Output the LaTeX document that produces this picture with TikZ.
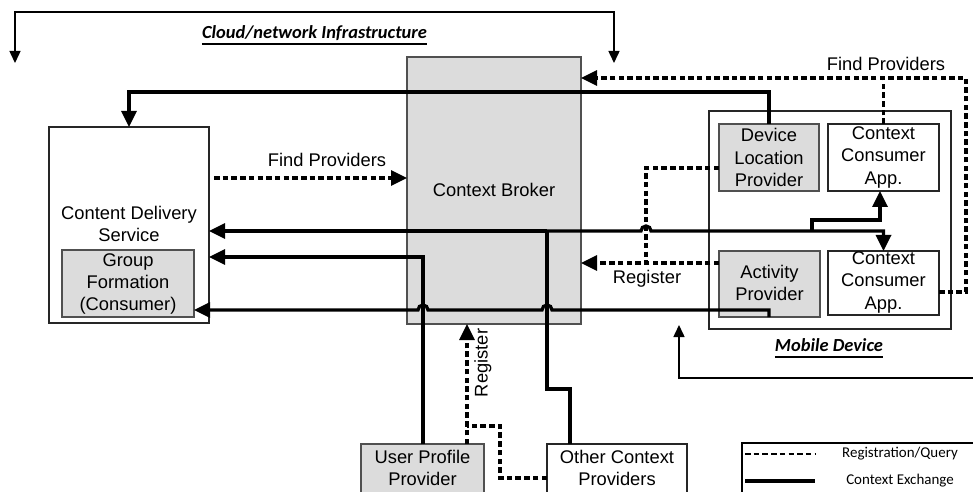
\documentclass[tikz,border=0pt]{standalone}
\usepackage{fontspec}
\setmainfont{Liberation Sans}
\newfontfamily\calibri{Carlito}
\usetikzlibrary{arrows.meta}
\definecolor{boxgray}{HTML}{DCDCDC}
\definecolor{edgegray}{HTML}{505050}
\tikzset{
 graybox/.style={draw=edgegray, fill=boxgray, line width=1.4bp, inner sep=0, outer sep=0},
 whitebox/.style={draw=black!85, fill=white, line width=1.3bp, inner sep=0, outer sep=0},
 lbl/.style={font=\fontsize{18.4}{22.3}\selectfont, align=center, inner sep=0},
 legtxt/.style={font=\calibri\fontsize{15}{18}\selectfont, inner sep=0},
 ctx/.style={line width=3.3bp},
 reg/.style={line width=3.1bp, dash pattern=on 5.5bp off 3.2bp},
 bigtip/.style={-{Triangle[length=16bp,width=15bp]}},
 thinln/.style={line width=1.5bp},
 thintip/.style={-{Triangle[length=12bp,width=11bp]}},
 bothtips/.style={{Triangle[length=12bp,width=11bp]}-{Triangle[length=12bp,width=11bp]}},
 titletxt/.style={font=\calibri\bfseries\itshape\fontsize{18.5}{22}\selectfont, inner sep=0},
}
\begin{document}
\begin{tikzpicture}[x=1bp, y=-1bp]
\useasboundingbox (0,0) rectangle (973,492);
\fill[white] (0,0) rectangle (973,492);
\clip (0,0) rectangle (973,492);

% boxes
\node[graybox, minimum width=174bp, minimum height=267bp] (broker) at (494,190.5) {};
\node[lbl] (brokertxt) at (494,190) {Context Broker};

\node[whitebox, minimum width=160bp, minimum height=196bp] (cds) at (129,225) {};
\node[lbl] (cdstxt) at (129,224) {Content Delivery\\Service};
\node[graybox, minimum width=132bp, minimum height=67bp] (group) at (128,283.5) {};
\node[lbl] (grouptxt) at (128,284) {Group\\Formation\\(Consumer)};

\node[whitebox, minimum width=242bp, minimum height=218bp] (mobile) at (830,220) {};
\node[graybox, minimum width=100bp, minimum height=67bp] (devloc) at (769,157.5) {};
\node[lbl] (devloctxt) at (769,157.5) {Device\\Location\\Provider};
\node[whitebox, minimum width=111bp, minimum height=67bp] (topcons) at (883.5,157.5) {};
\node[lbl] (topconstxt) at (883.5,157.5) {Context\\Consumer\\App.};
\node[graybox, minimum width=101bp, minimum height=66bp] (activity) at (769.5,284) {};
\node[lbl] (activitytxt) at (769.5,283) {Activity\\Provider};
\node[whitebox, minimum width=111bp, minimum height=64bp] (botcons) at (883.5,283) {};
\node[lbl] (botconstxt) at (883.5,282.5) {Context\\Consumer\\App.};

\node[graybox, minimum width=123bp, minimum height=66bp] (userprof) at (422.5,477) {};
\node[lbl] (userproftxt) at (422.5,468) {User Profile\\Provider};
\node[whitebox, minimum width=140bp, minimum height=66bp] (other) at (617,477) {};
\node[lbl] (othertxt) at (617,468) {Other Context\\Providers};

% titles
\node[titletxt, anchor=base] (cloud) at (314.5,39) {Cloud/network Infrastructure};
\draw[thinln] ([yshift=-5bp]cloud.base west) -- ([yshift=-5bp]cloud.base east);
\node[titletxt, anchor=base] (mobtitle) at (829,352) {Mobile Device};
\draw[thinln] ([yshift=-5bp]mobtitle.base west) -- ([yshift=-5bp]mobtitle.base east);

% bracket arrows
\coordinate (cloudL) at (15,63);
\coordinate (cloudR) at (614,63);
\draw[thinln, bothtips] (cloudL) -- (15,12) -- (614,12) -- (cloudR);
\coordinate (mobR) at (975,378);
\coordinate (mobtip) at (679,325);
\draw[thinln, thintip] (mobR) -- (679,378) -- (mobtip);

% registration / query (dashed)
\draw[reg, bigtip] (botcons.east |- 0,292) -- (966,292) -- (966,78) -- (broker.east |- 0,78);
\draw[reg] (topcons.north) -- (topcons.north |- 0,78);
\node[lbl] (fp2) at (886,64) {Find Providers};

\draw[reg, bigtip, shorten <=5bp] (cds.east |- 0,178) -- (broker.west |- 0,178);
\node[lbl] (fp1) at (327,160) {Find Providers};

\draw[reg] (devloc.west |- 0,168) -- (646,168) -- (646,263);
\draw[reg, bigtip] (activity.west |- 0,263) -- (broker.east |- 0,263);
\node[lbl] (reg1) at (647,279) {Register};

\draw[reg, bigtip] (userprof.north -| 467,0) -- (broker.south -| 467,0);
\draw[reg] (other.west |- 0,478) -- (500,478) -- (500,426) -- (467,426);
\node[lbl, rotate=90] (reg2) at (483,363) {Register};

% context exchange (thick)
\draw[ctx, bigtip] (devloc.north) -- (769,92) -- (129,92) -- (cds.north);
\draw[ctx] (other.north -| 570,0) -- (570,389) -- (547,389) -- (547,231);
\draw[ctx, bigtip] (547,231) -- (cds.east |- 0,231);
\draw[ctx, bigtip] (547,231) -- (641,231) arc[start angle=180, end angle=360, radius=5] -- (botcons.north |- 0,231) -- (botcons.north);
\draw[ctx, bigtip] (812,231) -- (812,220) -- (880,220) -- (topcons.south -| 880,0);
\draw[ctx, bigtip] (userprof.north -| 423,0) -- (423,257) -- (cds.east |- 0,257);
\draw[ctx, bigtip] (activity.south -| 769,0) -- (769,310) -- (552,310) arc[start angle=0, end angle=-180, radius=5] -- (428,310) arc[start angle=0, end angle=-180, radius=5] -- (group.east |- 0,310);

% legend
\node[whitebox, draw=black, minimum width=250bp, minimum height=70bp] (legend) at (867,478) {};
\coordinate (lg1a) at (745,454);
\coordinate (lg1b) at (815,454);
\coordinate (lg2a) at (745,481);
\coordinate (lg2b) at (815,481);
\draw[reg, line width=2.6bp] (lg1a) -- (lg1b);
\draw[ctx] (lg2a) -- (lg2b);
\node[legtxt] (legreg) at (900,454) {Registration/Query};
\node[legtxt] (legctx) at (900,481) {Context Exchange};
\end{tikzpicture}
\end{document}
